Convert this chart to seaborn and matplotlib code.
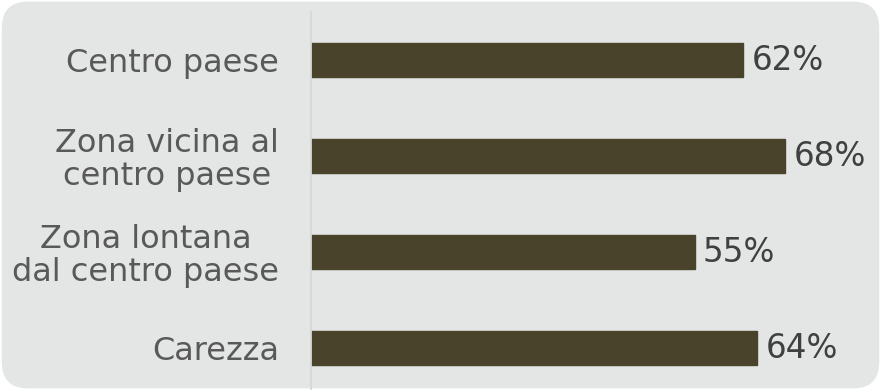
import matplotlib
matplotlib.use("Agg")
import matplotlib.pyplot as plt
import seaborn as sns
import pandas as pd
from matplotlib.patches import FancyBboxPatch

categories = ["Centro paese", "Zona vicina al\ncentro paese", "Zona lontana\ndal centro paese", "Carezza"]
values = [62, 68, 55, 64]

df = pd.DataFrame({"cat": categories, "val": values})

sns.set_theme(style="white")
plt.rcParams['font.family'] = ['DejaVu Sans']

W, H = 881, 390
fig = plt.figure(figsize=(W / 100, H / 100), dpi=100)
fig.patch.set_facecolor("white")
bg = FancyBboxPatch((0.002, 0.004), 0.996, 0.992, boxstyle="round,pad=0,rounding_size=0.03",
                    transform=fig.transFigure, facecolor="#e4e5e5", edgecolor="none",
                    mutation_aspect=W / H, zorder=-10)
fig.add_artist(bg)

ax = fig.add_axes([311 / W, 0, (869 - 311) / W, 1 - 12 / H])
ax.set_zorder(5)
ax.set_facecolor("none")
sns.barplot(data=df, y="cat", x="val", orient="h", color="#4a432c", width=0.345,
            saturation=1, ax=ax, edgecolor="#4a432c")

ax.set_xlim(0, 80)
ax.set_ylim(-0.5 + 378 / 96, -0.5)
ax.set_xlabel("")
ax.set_ylabel("")
ax.set_xticks([])
for s in ["top", "right", "bottom"]:
    ax.spines[s].set_visible(False)
ax.spines["left"].set_color("#d6d7d7")
ax.spines["left"].set_linewidth(1.3)

ax.set_yticks(range(len(categories)))
ax.set_yticklabels(categories, fontsize=23, color="#595959", ha="right",
                   multialignment="center", linespacing=1.08)
ax.tick_params(axis="y", which="major", length=0, pad=32 * 0.72)

ax.set_yticks([-0.5, 0.5, 1.5, 2.5], minor=True)
ax.tick_params(axis="y", which="minor", length=8, width=1.3, color="#d6d7d7", direction="out")

for i, v in enumerate(values):
    ax.text(v + 1.2, i, f"{v}%", va="center", ha="left", fontsize=23.5, color="#404040")

fig.savefig("out.png", dpi=100, facecolor="white")
